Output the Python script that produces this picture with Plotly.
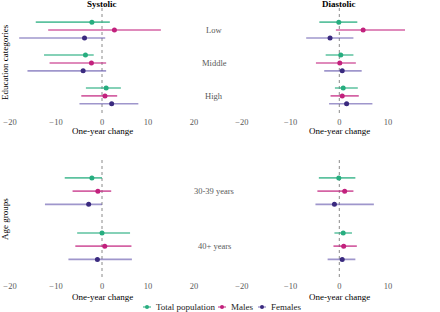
import plotly.graph_objects as go

# ---------------- data ----------------
education_categories = ["Low", "Middle", "High"]
age_groups = ["30-39 years", "40+ years"]
series_names = ["Total population", "Males", "Females"]
x_ticks = [-20, -10, 0, 10, 20]

# Systolic by education: estimate, lower, upper
sys_edu_total_est = [-2.2, -3.6, 0.9]
sys_edu_total_lo = [-14.4, -12.6, -3.5]
sys_edu_total_hi = [1.7, -1.8, 4.1]
sys_edu_male_est = [2.7, -2.3, 0.65]
sys_edu_male_lo = [-11.7, -11.4, -4.5]
sys_edu_male_hi = [12.8, 0.9, 3.3]
sys_edu_female_est = [-3.8, -4.1, 2.1]
sys_edu_female_lo = [-18.0, -16.2, -4.9]
sys_edu_female_hi = [0.7, 0.9, 7.9]

# Diastolic by education
dia_edu_total_est = [-0.1, 0.3, 0.8]
dia_edu_total_lo = [-4.1, -2.8, -0.9]
dia_edu_total_hi = [3.7, 2.9, 3.8]
dia_edu_male_est = [4.9, 0.1, 0.6]
dia_edu_male_lo = [-0.7, -4.8, -1.8]
dia_edu_male_hi = [13.5, 3.4, 4.0]
dia_edu_female_est = [-1.9, 0.6, 1.5]
dia_edu_female_lo = [-6.8, -3.1, -2.1]
dia_edu_female_hi = [2.9, 4.6, 6.8]

# Systolic by age
sys_age_total_est = [-2.2, 0.0]
sys_age_total_lo = [-8.1, -5.4]
sys_age_total_hi = [0.0, 6.1]
sys_age_male_est = [-0.9, 0.6]
sys_age_male_lo = [-6.4, -5.8]
sys_age_male_hi = [2.0, 6.4]
sys_age_female_est = [-2.9, -1.0]
sys_age_female_lo = [-12.4, -7.3]
sys_age_female_hi = [0.0, 6.5]

# Diastolic by age
dia_age_total_est = [-0.1, 0.8]
dia_age_total_lo = [-4.2, -1.0]
dia_age_total_hi = [3.3, 2.6]
dia_age_male_est = [1.1, 0.9]
dia_age_male_lo = [-4.5, -1.2]
dia_age_male_hi = [2.9, 3.6]
dia_age_female_est = [-1.0, 0.6]
dia_age_female_lo = [-4.9, -2.4]
dia_age_female_hi = [7.1, 3.3]

# ---------------- styling ----------------
W, H = 440, 312
FONT = "Liberation Serif, Times New Roman, DejaVu Serif, serif"
point_colors = ["#27ad7f", "#c2217d", "#3a2a7f"]
line_colors = ["rgba(39,173,127,0.75)", "rgba(194,33,125,0.7)", "rgba(95,80,170,0.6)"]
offsets = [-0.24, 0.0, 0.24]

panels = [
    ("x", "y", education_categories, [
        (sys_edu_total_est, sys_edu_total_lo, sys_edu_total_hi),
        (sys_edu_male_est, sys_edu_male_lo, sys_edu_male_hi),
        (sys_edu_female_est, sys_edu_female_lo, sys_edu_female_hi)]),
    ("x2", "y2", education_categories, [
        (dia_edu_total_est, dia_edu_total_lo, dia_edu_total_hi),
        (dia_edu_male_est, dia_edu_male_lo, dia_edu_male_hi),
        (dia_edu_female_est, dia_edu_female_lo, dia_edu_female_hi)]),
    ("x3", "y3", age_groups, [
        (sys_age_total_est, sys_age_total_lo, sys_age_total_hi),
        (sys_age_male_est, sys_age_male_lo, sys_age_male_hi),
        (sys_age_female_est, sys_age_female_lo, sys_age_female_hi)]),
    ("x4", "y4", age_groups, [
        (dia_age_total_est, dia_age_total_lo, dia_age_total_hi),
        (dia_age_male_est, dia_age_male_lo, dia_age_male_hi),
        (dia_age_female_est, dia_age_female_lo, dia_age_female_hi)]),
]

fig = go.Figure()

for xa, ya, cats, data in panels:
    for s, (est, lo, hi) in enumerate(data):
        ys = [i + offsets[s] for i in range(len(cats))]
        fig.add_trace(go.Scatter(
            x=est, y=ys, xaxis=xa, yaxis=ya, mode="markers",
            marker=dict(color=point_colors[s], size=5),
            error_x=dict(type="data", symmetric=False,
                         array=[h - e for h, e in zip(hi, est)],
                         arrayminus=[e - l for e, l in zip(est, lo)],
                         color=line_colors[s], thickness=1.6, width=0),
            name=series_names[s], showlegend=False, hoverinfo="skip"))

x_range = [-20.5, 20.5]
x_common = dict(range=x_range, tickvals=x_ticks, showgrid=False, zeroline=False,
                showline=False, ticks="", automargin=False, ticklabelstandoff=2,
                tickfont=dict(family=FONT, size=8.5, color="#5a5a5a"), fixedrange=True)
y_common = dict(showgrid=False, zeroline=False, showline=False, ticks="", automargin=False,
                showticklabels=False, fixedrange=True)

def px_x(p):
    return p / W

def px_y(p):
    return 1 - p / H

left_dom = [px_x(7.7), px_x(196.3)]
right_dom = [px_x(239.5), px_x(439.1)]
top_dom = [px_y(113), px_y(8)]
bot_dom = [px_y(277), px_y(157)]

fig.update_layout(
    xaxis=dict(domain=left_dom, anchor="y", **x_common),
    xaxis2=dict(domain=right_dom, anchor="y2", **x_common),
    xaxis3=dict(domain=left_dom, anchor="y3", **x_common),
    xaxis4=dict(domain=right_dom, anchor="y4", **x_common),
    yaxis=dict(domain=top_dom, anchor="x", range=[2.52, -0.67], **y_common),
    yaxis2=dict(domain=top_dom, anchor="x2", range=[2.52, -0.67], **y_common),
    yaxis3=dict(domain=bot_dom, anchor="x3", range=[1.56, -0.62], **y_common),
    yaxis4=dict(domain=bot_dom, anchor="x4", range=[1.56, -0.62], **y_common),
)

shapes = []
for xa, ya in [("x", "y"), ("x2", "y2"), ("x3", "y3"), ("x4", "y4")]:
    shapes.append(dict(type="line", xref=xa, yref=ya + " domain", x0=0, x1=0, y0=0, y1=1,
                       line=dict(color="#8a8a8a", width=1, dash="dot"), layer="below"))

ann = []
lab_font = dict(family=FONT, size=8.5, color="#5a5a5a")
for i, c in enumerate(education_categories):
    ann.append(dict(text=c, x=px_x(214), xref="paper", y=i, yref="y", showarrow=False,
                    xanchor="center", yanchor="middle", font=lab_font))
for i, c in enumerate(age_groups):
    ann.append(dict(text=c, x=px_x(214), xref="paper", y=i, yref="y3", showarrow=False,
                    xanchor="center", yanchor="middle", font=lab_font))
title_font = dict(family=FONT, size=9, color="black")
ann.append(dict(text="<b>Systolic</b>", x=0, xref="x", y=px_y(4), yref="paper",
                xanchor="center", yanchor="middle", showarrow=False, font=title_font))
ann.append(dict(text="<b>Diastolic</b>", x=0, xref="x2", y=px_y(4), yref="paper",
                xanchor="center", yanchor="middle", showarrow=False, font=title_font))
for xa, py in [("x", 130.5), ("x2", 130.5), ("x3", 296.5), ("x4", 296.5)]:
    ann.append(dict(text="One-year change", x=0, xref=xa, y=px_y(py), yref="paper",
                    xanchor="center", yanchor="middle", showarrow=False, font=title_font))
ann.append(dict(text="Education categories", x=px_x(5), xref="paper", y=px_y(62),
                yref="paper", textangle=-90, xanchor="center", yanchor="middle",
                showarrow=False, font=title_font))
ann.append(dict(text="Age groups", x=px_x(5), xref="paper", y=px_y(219),
                yref="paper", textangle=-90, xanchor="center", yanchor="middle",
                showarrow=False, font=title_font))

# custom compact legend
leg_x = [147, 222, 262]
leg_y = 307
for s, name in enumerate(series_names):
    cx = leg_x[s]
    shapes.append(dict(type="line", xref="paper", yref="paper",
                       x0=px_x(cx - 4), x1=px_x(cx + 4), y0=px_y(leg_y), y1=px_y(leg_y),
                       line=dict(color=line_colors[s], width=1.4)))
    shapes.append(dict(type="circle", xref="paper", yref="paper",
                       x0=px_x(cx - 2), x1=px_x(cx + 2), y0=px_y(leg_y + 2), y1=px_y(leg_y - 2),
                       fillcolor=point_colors[s], line=dict(width=0)))
    ann.append(dict(text=name, x=px_x(cx + 7), xref="paper", y=px_y(leg_y), yref="paper",
                    xanchor="left", yanchor="middle", showarrow=False,
                    font=dict(family=FONT, size=9, color="#222222")))

fig.update_layout(
    annotations=ann, shapes=shapes,
    width=W, height=H,
    margin=dict(l=0, r=0, t=0, b=0, autoexpand=False),
    paper_bgcolor="white", plot_bgcolor="white",
    font=dict(family=FONT),
    showlegend=False,
)

fig.write_html("out.html", config={"displayModeBar": False},
               post_script="document.body.style.margin='0px';")
